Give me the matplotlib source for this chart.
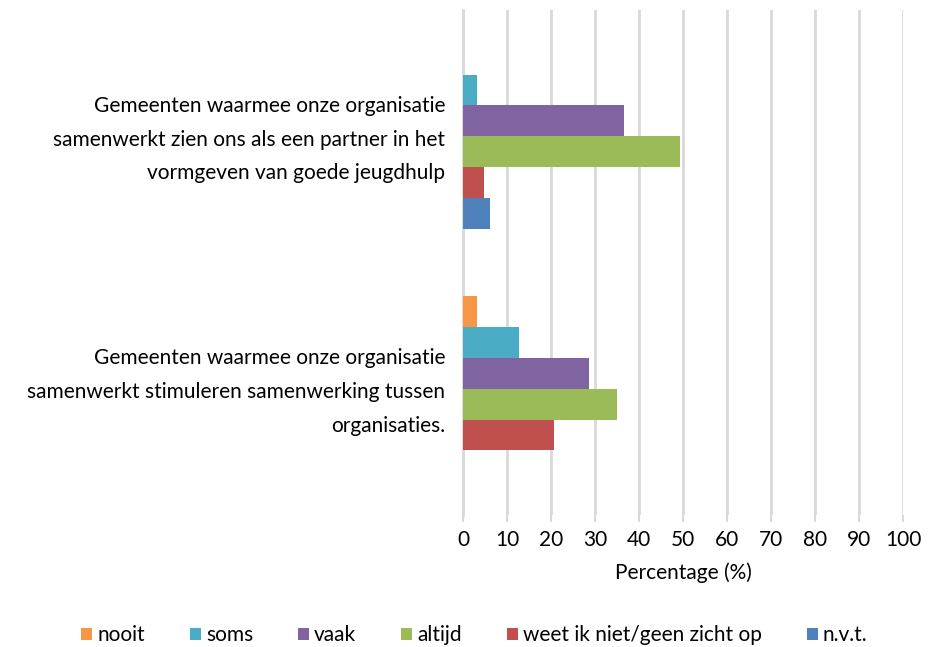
import numpy as np
import matplotlib

matplotlib.use("Agg")
import matplotlib.pyplot as plt
import matplotlib.transforms as mtransforms
from matplotlib.patches import Patch

plt.rcParams["font.family"] = ["Lato", "DejaVu Sans"]

# categories (top to bottom as shown)
categories = [
    "Gemeenten waarmee onze organisatie\nsamenwerkt zien ons als een partner in het\nvormgeven van goede jeugdhulp",
    "Gemeenten waarmee onze organisatie\nsamenwerkt stimuleren samenwerking tussen\norganisaties.",
]
series = ["nooit", "soms", "vaak", "altijd", "weet ik niet/geen zicht op", "n.v.t."]
colors = ["#F79646", "#4BACC6", "#8064A2", "#9BBB59", "#C0504D", "#4F81BD"]

# percentages per series, one value per category
nooit = [0.0, 3.2]
soms = [3.2, 12.6]
vaak = [36.5, 28.5]
altijd = [49.2, 34.9]
weet_niet = [4.8, 20.6]
nvt = [6.2, 0.0]
values = [nooit, soms, vaak, altijd, weet_niet, nvt]

xticks = list(range(0, 101, 10))

fig = plt.figure(figsize=(9.3, 6.47), dpi=100)
ax = fig.add_axes([0.498, 0.204, 0.473, 0.7805])

n = len(series)
h = 0.733 / n
ypos = np.array([1, 0])  # first category on top
for i, (name, vals, c) in enumerate(zip(series, values, colors)):
    ax.barh(ypos + (2.5 - i) * h, vals, height=h, color=c, edgecolor="none", zorder=3)

ax.set_xlim(0, 100)
ax.set_ylim(-0.5, 1.5)
ax.set_xticks(xticks)
ax.set_xticklabels([str(t) for t in xticks], fontsize=15)
ax.set_yticks(ypos)
ax.set_yticklabels(categories, fontsize=15, linespacing=1.86, ha="right")
ax.tick_params(axis="y", length=0, pad=13)
ax.tick_params(axis="x", length=5, color="#d9d9d9", width=1.5, pad=6)
ax.set_xlabel("Percentage (%)", fontsize=15, labelpad=9)

# labels a little higher, as in the original
shift = mtransforms.ScaledTranslation(0, 4 / 72, fig.dpi_scale_trans)
for lbl in ax.get_yticklabels():
    lbl.set_transform(lbl.get_transform() + shift)

ax.grid(axis="x", color="#d9d9d9", linewidth=2, zorder=0)
for s in ["top", "right", "bottom"]:
    ax.spines[s].set_visible(False)
ax.spines["left"].set_color("#d9d9d9")
ax.spines["left"].set_linewidth(2)

handles = [Patch(facecolor=c, edgecolor="none") for c in colors]
fig.legend(handles, series, loc="center", bbox_to_anchor=(0.51, 0.018), ncol=6,
           frameon=False, fontsize=15, handlelength=0.53, handleheight=0.53,
           handletextpad=0.24, columnspacing=2.16)

fig.savefig("out.png", dpi=100)
